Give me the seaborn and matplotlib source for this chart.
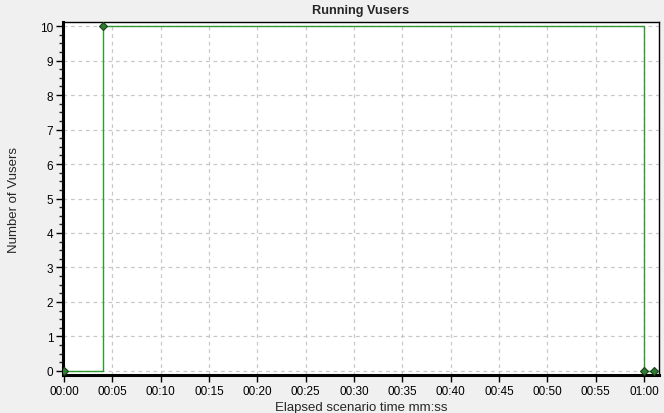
import matplotlib
matplotlib.use("Agg")
import matplotlib.pyplot as plt
import matplotlib.ticker as mticker
import pandas as pd
import seaborn as sns

# Running vusers over elapsed scenario time (seconds)
elapsed_sec = [0, 4, 60, 61]
running_vusers = [0, 10, 0, 0]

x_ticks = list(range(0, 61, 5))
x_tick_labels = ["%02d:%02d" % (t // 60, t % 60) for t in x_ticks]
y_ticks = list(range(0, 11))

df = pd.DataFrame({"time": elapsed_sec, "vusers": running_vusers})

sns.set_style("white")
plt.rcParams["font.family"] = ["Liberation Sans", "DejaVu Sans"]

fig = plt.figure(figsize=(6.64, 4.14), dpi=100, facecolor="#f0f0f0")
ax = fig.add_axes([0.0949, 0.0918, 0.8976, 0.8526])
ax.set_facecolor("white")

sns.lineplot(data=df, x="time", y="vusers", ax=ax, drawstyle="steps-post",
             color="#2f9a2f", linewidth=1.0, marker="D", markersize=4,
             markerfacecolor="#2e7d32", markeredgecolor="#1b3d1b",
             markeredgewidth=0.8, zorder=3)

ax.set_xlim(-0.1, 61.55)
ax.set_ylim(-0.12, 10.12)
ax.set_xticks(x_ticks)
ax.set_xticklabels(x_tick_labels)
ax.set_yticks(y_ticks)
ax.yaxis.set_minor_locator(mticker.MultipleLocator(0.25))

ax.grid(True, which="major", color="#c8c8c8", linestyle=(0, (3, 3)), linewidth=0.9)
ax.set_axisbelow(True)

for side in ["top", "right"]:
    ax.spines[side].set_linewidth(1.0)
    ax.spines[side].set_color("black")
for side in ["left", "bottom"]:
    ax.spines[side].set_linewidth(2.2)
    ax.spines[side].set_color("black")

ax.tick_params(axis="both", which="major", direction="out", length=5, width=1,
               labelsize=8.5, colors="black", left=True, bottom=True, pad=2)
ax.tick_params(axis="y", which="minor", direction="out", length=3, width=1, left=True)

ax.set_title("Running Vusers", fontsize=9.2, fontweight="bold", pad=6.5)
ax.set_xlabel("Elapsed scenario time mm:ss", fontsize=9.5, labelpad=3)
ax.set_ylabel("Number of Vusers", fontsize=9.5)
ax.yaxis.set_label_coords(-0.072, 0.5)

fig.savefig("out.png", dpi=100, facecolor=fig.get_facecolor())
